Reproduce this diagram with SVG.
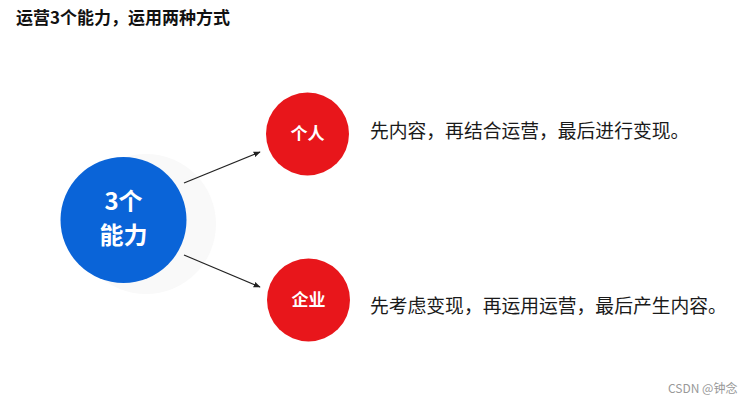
<svg xmlns="http://www.w3.org/2000/svg" width="750" height="404" viewBox="0 0 750 404">
<style>
.cn{font-family:"Noto Sans CJK SC","Liberation Sans",sans-serif}
.w{fill:#fff;font-weight:bold;text-anchor:middle}
.t{fill:#1a1a1a;font-size:18.8px}
</style>
<defs>
<marker id="ah" viewBox="0 0 10 10" refX="9" refY="5" markerWidth="7" markerHeight="7" orient="auto" markerUnits="userSpaceOnUse">
<path d="M0,1 L10,5 L0,9 Z" fill="#222"/>
</marker>
</defs>
<rect width="750" height="404" fill="#fff"/>
<text class="cn" x="16" y="24" font-size="17" font-weight="bold" fill="#111">运营3个能力，运用两种方式</text>
<g id="n-main">
<circle cx="146" cy="224" r="70" fill="#f9f9f9"/>
<circle cx="123.5" cy="220" r="63" fill="#0a64d8"/>
<text class="cn w" x="123.5" y="210" font-size="24">3个</text>
<text class="cn w" x="123.5" y="244" font-size="24">能力</text>
</g>
<g id="connectors" stroke="#222" stroke-width="1.2" fill="none">
<line x1="184" y1="183" x2="260" y2="152" marker-end="url(#ah)"/>
<line x1="184" y1="255" x2="260" y2="287" marker-end="url(#ah)"/>
</g>
<g id="n-person">
<circle cx="307.5" cy="134" r="41.5" fill="#e8161b"/>
<text class="cn w" x="307.5" y="140" font-size="17">个人</text>
</g>
<g id="n-company">
<circle cx="308.5" cy="300" r="41.5" fill="#e8161b"/>
<text class="cn w" x="308.5" y="306" font-size="17">企业</text>
</g>
<g id="labels">
<text class="cn t" x="370" y="138">先内容，再结合运营，最后进行变现。</text>
<text class="cn t" x="370" y="313">先考虑变现，再运用运营，最后产生内容。</text>
</g>
<text class="cn" x="668" y="393" font-size="12" fill="#999">CSDN @钟念</text>
</svg>
